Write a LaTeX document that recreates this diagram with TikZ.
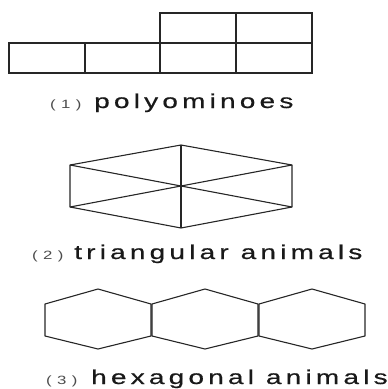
\documentclass[tikz,border=0pt]{standalone}
\usepackage{fontspec}
\setmainfont{Liberation Sans}
\newfontfamily\widesans[FakeStretch=1.4,LetterSpace=21,FakeBold=0.6]{Liberation Sans}
\newfontfamily\tagsans[FakeStretch=1.4,LetterSpace=45]{Liberation Sans}
\begin{document}
\begin{tikzpicture}[x=1pt,y=-1pt,
  edge/.style={line width=1.1pt,black!85,line join=round},
  cell/.style={line width=1.4pt,black!85},
  caption/.style={anchor=base west,inner sep=0pt,font=\widesans\fontsize{20}{20}\selectfont,text=black!90},
  tag/.style={anchor=base west,inner sep=0pt,font=\tagsans\fontsize{12}{12}\selectfont,text=black!70}]
\useasboundingbox (0,0) rectangle (388,389);

% (1) polyomino: four cells in a row, two more on top of the right pair
\draw[cell] (9,43) rectangle (312,73);
\foreach \x in {85,160,236} \draw[cell] (\x,43) -- (\x,73);
\draw[cell] (160,13) rectangle (312,43);
\draw[cell] (236,13) -- (236,43);
\node[tag] (t1) at (50,108) {(1)};
\node[caption] (c1) at (94,108) {polyominoes};

% (2) hexagon split into six triangles
\coordinate (ht) at (181,145);
\coordinate (hul) at (70,165);
\coordinate (hll) at (70,207);
\coordinate (hb) at (181,228);
\coordinate (hlr) at (292,207);
\coordinate (hur) at (292,165);
\draw[edge] (ht) -- (hul) -- (hll) -- (hb) -- (hlr) -- (hur) -- cycle;
\draw[edge] (ht) -- (hb);
\draw[edge] (hul) -- (hlr);
\draw[edge] (hll) -- (hur);
\node[tag] (t2) at (32,259) {(2)};
\node[caption] (c2) at (74,259) {triangular animals};

% (3) chain of three hexagons
\foreach \cx/\n in {98/a,205/b,312/c}{
  \draw[edge] (\cx,289) -- (\cx-53,304) -- (\cx-53,336) -- (\cx,349)
              -- (\cx+53,336) -- (\cx+53,304) -- cycle;
}
\node[tag] (t3) at (46,384) {(3)};
\node[caption] (c3) at (91,384) {hexagonal animals};
\end{tikzpicture}
\end{document}
